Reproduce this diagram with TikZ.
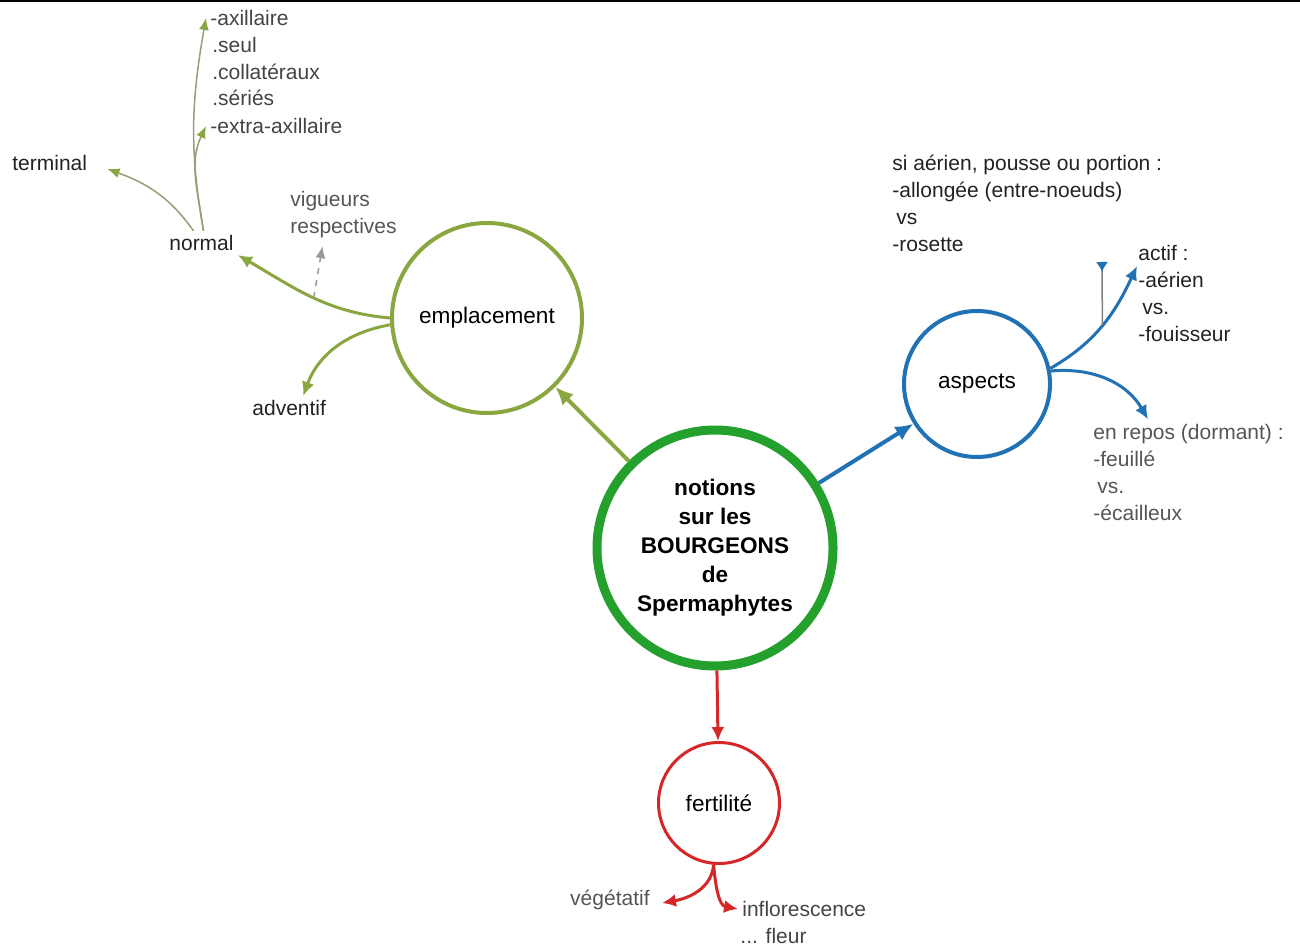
\documentclass[tikz,border=0pt]{standalone}
\usepackage{fontspec}
\setmainfont{Liberation Sans}
\usepackage{xcolor}
\usetikzlibrary{arrows.meta}

\definecolor{vertcentre}{RGB}{36,160,44}
\definecolor{vertolive}{RGB}{138,166,64}
\definecolor{oliveterne}{RGB}{150,158,118}
\definecolor{bleuasp}{RGB}{33,113,181}
\definecolor{rougefert}{RGB}{214,39,40}
\definecolor{noirtxt}{RGB}{34,34,34}
\definecolor{gristxt}{RGB}{85,85,85}
\definecolor{listetxt}{RGB}{68,68,68}

\tikzset{
  bulle/.style={circle, draw, fill=white, font=\fontsize{11.3}{13}\selectfont},
  lien/.style={line width=2pt, -{Latex[length=9pt,width=8pt]}},
  branche/.style={line width=1.5pt, -{Latex[length=7pt,width=6.5pt]}},
  fin/.style={line width=0.75pt, -{Latex[length=6pt,width=5pt]}},
  etiquette/.style={inner sep=2pt, anchor=west, align=left, text=noirtxt,
    font=\fontsize{10.5}{13.5}\selectfont}
}

\begin{document}
\begin{tikzpicture}[x=0.5pt,y=0.5pt]
\useasboundingbox (0,0) rectangle (1300,-946);
% bord du haut
\draw [line width=1.5pt] (0,-1) -- (1300,-1);
% bulles
\node [bulle, draw=vertcentre, line width=4.5pt, minimum size=118pt, align=center,
  font=\fontsize{11.3}{14.5}\selectfont\bfseries] (centre) at (715,-548)
  {notions\\sur les\\BOURGEONS\\de\\Spermaphytes};
\node [bulle, draw=vertolive, line width=2pt, minimum size=95pt] (empl) at (487,-318) {emplacement};
\node [bulle, draw=bleuasp, line width=2pt, minimum size=73pt] (aspects) at (977,-384) {aspects};
\node [bulle, draw=rougefert, line width=1.5pt, minimum size=60.5pt] (fert) at (719,-803) {fertilité};
% etiquettes emplacement
\node [etiquette, text=listetxt] (axil) at (206,-18) {-axillaire};
\node [etiquette, text=listetxt] (seul) at (208,-45) {.seul};
\node [etiquette, text=listetxt] (collat) at (208,-72) {.collatéraux};
\node [etiquette, text=listetxt] (series) at (208,-98) {.sériés};
\node [etiquette, text=listetxt] (extra) at (206,-126) {-extra-axillaire};
\node [etiquette] (terminal) at (8,-163) {terminal};
\node [etiquette] (normal) at (165,-243) {normal};
\node [etiquette, text=gristxt] (vig) at (286,-214.5) {vigueurs\\respectives};
\node [etiquette] (adventif) at (248,-408) {adventif};
% etiquettes aspects
\node [etiquette] (pousse) at (888,-203.5) {si aérien, pousse ou portion :\\-allongée (entre-noeuds)\\\hspace{2pt}vs\\-rosette};
\node [etiquette] (actif) at (1134,-293) {actif :\\-aérien\\\hspace{2pt}vs.\\-fouisseur};
\node [etiquette, text=gristxt] (repos) at (1089,-472) {en repos (dormant) :\\-feuillé\\\hspace{2pt}vs.\\-écailleux};
\coordinate (libre) at (1102,-262);
% etiquettes fertilite
\node [etiquette, anchor=east, text=gristxt] (vege) at (654,-900) {végétatif};
\node [etiquette, text=listetxt] (inflo) at (738,-909) {inflorescence};
\node [etiquette, text=listetxt] (fleur) at (736,-936) {... fleur};
% liens du centre
\draw [lien, vertolive] (centre) -- (empl);
\draw [lien, bleuasp] (centre) -- (aspects);
\draw [branche, rougefert] (centre) -- (fert);
% emplacement
\draw [branche, vertolive] (empl.180) to[out=175,in=-30] coordinate[pos=0.48] (vig0) (normal.south east);
\draw [branche, vertolive] (empl.184) to[out=190,in=70] ([xshift=7pt]adventif.north);
\draw [fin, gray!80, dashed] (vig0) -- ([xshift=-10.5pt,yshift=-2pt]vig.south);
\draw [fin, oliveterne, -{Latex[length=6pt,width=5pt,color=vertolive]}] ([xshift=-4pt]normal.north) to[out=125,in=-20] ([xshift=8pt,yshift=-3pt]terminal.east);
\draw [fin, oliveterne, -{Latex[length=6pt,width=5pt,color=vertolive]}] ([xshift=1pt]normal.north) to[out=100,in=-100] (axil.west);
\draw [fin, oliveterne, -{Latex[length=6pt,width=5pt,color=vertolive]}] ([xshift=1pt]normal.north) to[out=98,in=-115] (extra.west);
% aspects
\draw [branche, bleuasp] (aspects.12) to[out=30,in=-115] coordinate[pos=0.5] (act0) ([shift={(1.5pt,13.5pt)}]actif.west);
\draw [fin, gray, -{Latex[length=5pt,width=6pt,reversed,color=bleuasp]}] (act0) -- (libre);
\draw [branche, bleuasp] (aspects.10) to[out=5,in=120] ([xshift=29.5pt]repos.north west);
% fertilite
\draw [branche, rougefert] (fert.-95) to[out=-95,in=10] ([xshift=4pt,yshift=-1.5pt]vege.east);
\draw [branche, rougefert] (fert.-95) to[out=-85,in=170] (inflo.west);
\end{tikzpicture}
\end{document}
